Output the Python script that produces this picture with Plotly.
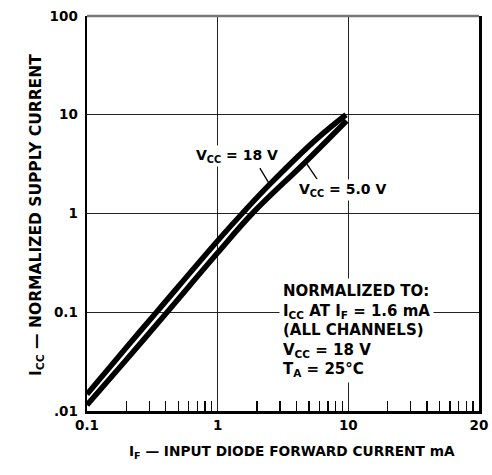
import plotly.graph_objects as go

# Data
if_18 = [0.1, 0.2, 0.34, 1.0, 1.54, 2.5, 5.65, 9.6]
icc_18 = [0.0148, 0.044, 0.1, 0.53, 1.0, 1.97, 5.6, 10.0]
if_5 = [0.1, 0.2, 0.41, 1.0, 1.84, 4.66, 9.7]
icc_5 = [0.0115, 0.033, 0.1, 0.40, 1.0, 3.29, 8.7]

x_tickvals = [0.1, 1, 10, 100]
x_ticktext = ["0.1", "1", "10", "20"]
x_minor = [0.2, 0.3, 0.4, 0.5, 0.6, 0.7, 0.8, 0.9,
           2, 3, 4, 5, 6, 7, 8, 9,
           20, 30, 40, 50, 60, 70, 80, 90]
y_tickvals = [0.01, 0.1, 1, 10, 100]
y_ticktext = [".01", "0.1", "1", "10", "100"]

FONT = "DejaVu Sans, Liberation Sans, Arial, sans-serif"

fig = go.Figure()
fig.add_trace(go.Scatter(x=if_18, y=icc_18, mode="lines",
                         line=dict(color="black", width=5.5, shape="spline", smoothing=1.1),
                         name="VCC = 18 V", showlegend=False, hoverinfo="skip"))
fig.add_trace(go.Scatter(x=if_5, y=icc_5, mode="lines",
                         line=dict(color="black", width=5.5, shape="spline", smoothing=1.1),
                         name="VCC = 5.0 V", showlegend=False, hoverinfo="skip"))

fig.update_layout(
    width=492, height=475,
    margin=dict(l=87, r=13, t=16, b=64, autoexpand=False),
    paper_bgcolor="white", plot_bgcolor="white",
    font=dict(family=FONT, size=14, color="black", weight="bold"),
    xaxis=dict(type="log", range=[-1, 2], tickvals=x_tickvals, ticktext=x_ticktext,
               automargin=False,
               showgrid=True, gridcolor="#222", gridwidth=1,
               ticks="", showline=True, linecolor="black", linewidth=2.5, mirror=False,
               zeroline=False,
               minor=dict(tickvals=x_minor, ticks="inside", ticklen=10,
                          tickcolor="black", tickwidth=1.2, showgrid=False),
               tickfont=dict(family=FONT, size=13.5, weight="bold")),
    yaxis=dict(type="log", range=[-2, 2], tickvals=y_tickvals, ticktext=y_ticktext,
               automargin=False,
               showgrid=True, gridcolor="#222", gridwidth=1,
               ticks="", showline=True, linecolor="black", linewidth=2.5, mirror=True,
               zeroline=False, ticklabelstandoff=4,
               tickfont=dict(family=FONT, size=13.5, weight="bold")),
)

# top border (greyish in the reference)
fig.add_shape(type="line", xref="paper", yref="paper", x0=0, x1=1, y0=1, y1=1,
              line=dict(color="#777", width=2.5))

# leader lines
fig.add_shape(type="line", xref="paper", yref="paper", x0=0.441, y0=0.615, x1=0.464, y1=0.577,
              line=dict(color="black", width=1.3))
fig.add_shape(type="line", xref="paper", yref="paper", x0=0.561, y0=0.625, x1=0.587, y1=0.587,
              line=dict(color="black", width=1.3))

fig.add_annotation(xref="paper", yref="paper", x=0.383, y=0.646,
                   text="V<sub>CC</sub> = 18 V", showarrow=False,
                   font=dict(family=FONT, size=14, weight="bold"), bgcolor="white", borderpad=1)
fig.add_annotation(xref="paper", yref="paper", x=0.653, y=0.559,
                   text="V<sub>CC</sub> = 5.0 V", showarrow=False,
                   font=dict(family=FONT, size=14, weight="bold"), bgcolor="white", borderpad=1)
fig.add_annotation(xref="paper", yref="paper", x=0.490, y=0.205, xanchor="left", yanchor="middle",
                   align="left", showarrow=False,
                   text=("NORMALIZED TO:<br>I<sub>CC</sub> AT I<sub>F</sub> = 1.6 mA<br>"
                         "(ALL CHANNELS)<br>V<sub>CC</sub> = 18 V<br>T<sub>A</sub> = 25°C"),
                   font=dict(family=FONT, size=15, weight="bold"), bgcolor="white", borderpad=3)

# axis titles
fig.add_annotation(xref="paper", yref="paper", x=(292 - 87) / 392, y=(411 - 463) / 395,
                   text="I<sub>F</sub> — INPUT DIODE FORWARD CURRENT mA", showarrow=False,
                   font=dict(family=FONT, size=13.7, weight="bold"))
fig.add_annotation(xref="paper", yref="paper", x=(25 - 87) / 392, y=(411 - 215) / 395,
                   text="I<sub>CC</sub> — NORMALIZED SUPPLY CURRENT", showarrow=False,
                   textangle=-90,
                   font=dict(family=FONT, size=15.5, weight="bold"))

fig.write_html("out.html",
               config={"displayModeBar": False, "staticPlot": True},
               post_script="document.body.style.margin='0';document.body.style.padding='0';")
